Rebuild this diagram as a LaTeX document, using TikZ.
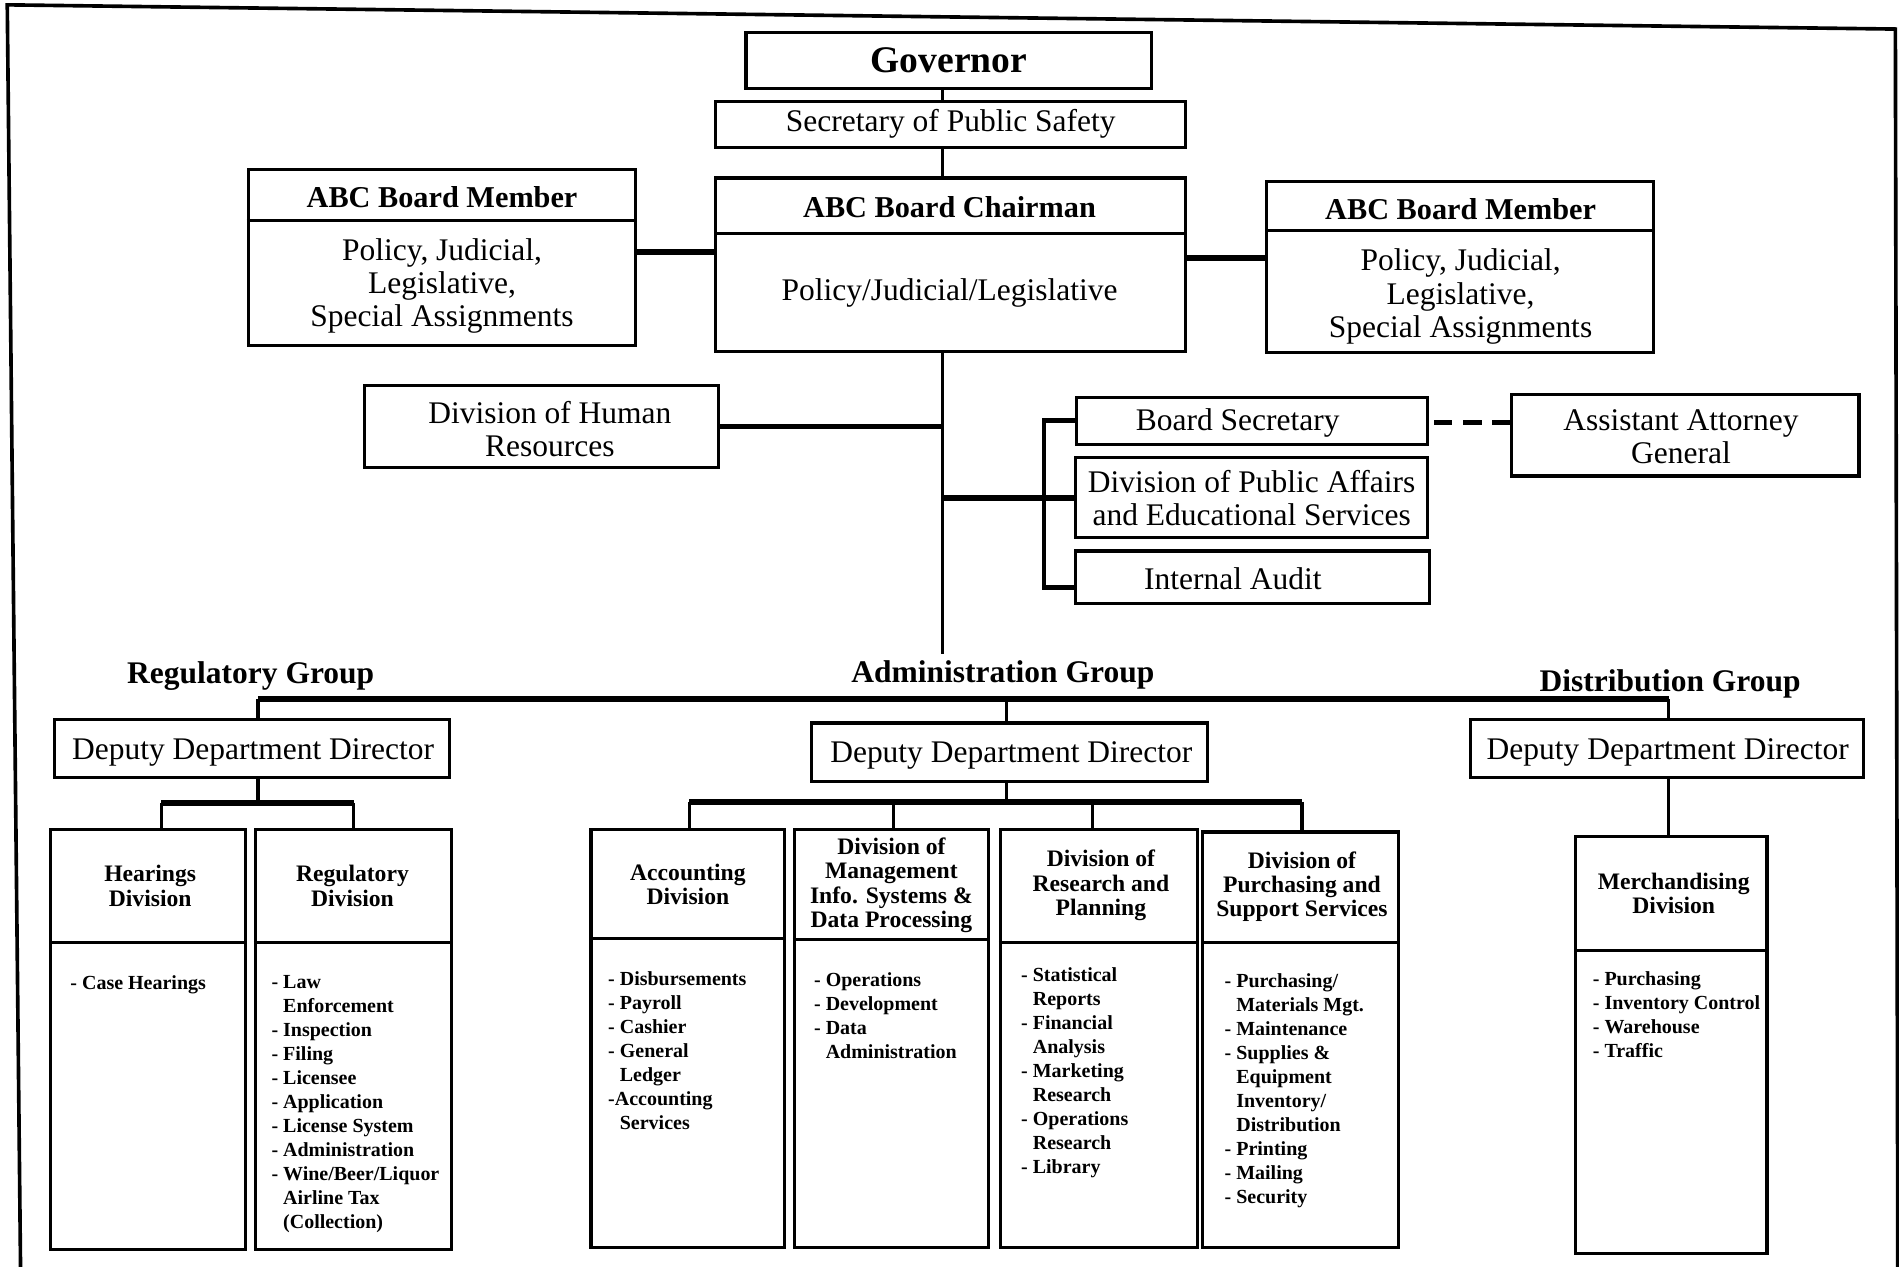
\documentclass[tikz,border=0pt]{standalone}
\usepackage{fontspec}
\setmainfont{Liberation Serif}
\newcommand{\fGov}{\fontsize{31}{34}\selectfont\bfseries}
\newcommand{\fHead}{\fontsize{25}{28}\selectfont\bfseries}
\newcommand{\fBody}{\fontsize{26}{27.5}\selectfont}
\newcommand{\fGroup}{\fontsize{26}{28}\selectfont\bfseries}
\newcommand{\fTitle}{\fontsize{19.5}{20}\selectfont\bfseries}
\newcommand{\fItem}{\fontsize{16.5}{19.8}\selectfont\bfseries}
\newcommand{\ind}{\hphantom{- }}
\begin{document}
\begin{tikzpicture}[x=1pt,y=-1pt,
  box/.style={draw, line width=2.6pt, inner sep=0pt, align=center},
  conn/.style={line width=2.6pt},
  bar/.style={line width=4.6pt},
  frame/.style={line width=3pt, line join=miter},
  lbl/.style={inner sep=0pt, align=center},
  items/.style={inner sep=0pt, align=left, anchor=north west, font=\fItem},
]
\useasboundingbox (0,0) rectangle (1568,1046);

% page frame
\draw[frame] (17,1050) -- (6,4) -- (1565,24) -- (1567,1050);

% ---- top of the chart
\node[box, minimum width=335pt, minimum height=46pt, font=\fGov] (gov) at (783.5,50) {Governor};
\node[box, minimum width=388pt, minimum height=38pt, font=\fBody] (sec) at (785,102.5) {Secretary of Public Safety};

% board chairman
\node[box, minimum width=388pt, minimum height=143pt] (chr) at (785,218.5) {};
\draw[conn] (chr.west |- 0,193) -- (chr.east |- 0,193);
\node[lbl, font=\fHead] (chrT) at (784,171) {ABC Board Chairman};
\node[lbl, font=\fBody] (chrB) at (784,242) {Policy/Judicial/Legislative};

% board member, left
\node[box, minimum width=320pt, minimum height=145pt] (bml) at (365,212.5) {};
\draw[conn] (bml.west |- 0,182) -- (bml.east |- 0,182);
\node[lbl, font=\fHead] (bmlT) at (365,163) {ABC Board Member};
\node[lbl, font=\fBody] (bmlB) at (365,236) {Policy, Judicial,\\Legislative,\\Special Assignments};

% board member, right
\node[box, minimum width=319pt, minimum height=141pt] (bmr) at (1205.5,220.5) {};
\draw[conn] (bmr.west |- 0,190) -- (bmr.east |- 0,190);
\node[lbl, font=\fHead] (bmrT) at (1206,173) {ABC Board Member};
\node[lbl, font=\fBody] (bmrB) at (1206,245) {Policy, Judicial,\\Legislative,\\Special Assignments};

% staff offices
\node[box, minimum width=292pt, minimum height=68pt] (hr) at (447,352) {};
\node[lbl, font=\fBody] (hrT) at (454,354) {Division of Human\\Resources};
\node[box, minimum width=290pt, minimum height=39pt] (bs) at (1034,347.5) {};
\node[lbl, font=\fBody] (bsT) at (1022,349.5) {Board Secretary};
\node[box, minimum width=291pt, minimum height=66pt, font=\fBody] (pa) at (1033.5,411) {Division of Public Affairs\\and Educational Services};
\node[box, minimum width=292pt, minimum height=43pt] (ia) at (1034,476.5) {};
\node[lbl, font=\fBody] (iaT) at (1018,477.5) {Internal Audit};
\node[box, minimum width=287pt, minimum height=67pt] (aag) at (1391.5,359.5) {};
\node[lbl, font=\fBody] (aagT) at (1388,360.5) {Assistant Attorney\\General};

% group headings
\node[lbl, font=\fGroup] (regg) at (207,558) {Regulatory Group};
\node[lbl, font=\fGroup] (admg) at (828,557) {Administration Group};
\node[lbl, font=\fGroup] (disg) at (1379,565) {Distribution Group};

% deputy directors
\node[box, minimum width=326pt, minimum height=48pt] (depL) at (208,618) {};
\node[lbl, font=\fBody] (depLT) at (209,621) {Deputy Department Director};
\node[box, minimum width=327pt, minimum height=48pt] (depM) at (833.5,621) {};
\node[lbl, font=\fBody] (depMT) at (835,624) {Deputy Department Director};
\node[box, minimum width=325pt, minimum height=48pt] (depR) at (1376.5,618) {};
\node[lbl, font=\fBody] (depRT) at (1377,621) {Deputy Department Director};

% ---- divisions
\node[box, minimum width=161pt, minimum height=347pt] (hear) at (122.5,858.5) {};
\draw[conn] (hear.west |- 0,778) -- (hear.east |- 0,778);
\node[lbl, font=\fTitle] (hearT) at (124,731.5) {Hearings\\Division};
\node[items] (hearI) at (58,805) {- Case Hearings};

\node[box, minimum width=162pt, minimum height=347pt] (regd) at (292,858.5) {};
\draw[conn] (regd.west |- 0,778) -- (regd.east |- 0,778);
\node[lbl, font=\fTitle] (regdT) at (291,731.5) {Regulatory\\Division};
\node[items] (regdI) at (224,805) {- Law\\\ind Enforcement\\- Inspection\\- Filing\\- Licensee\\- Application\\- License System\\- Administration\\- Wine/Beer/Liquor\\\ind Airline Tax\\\ind (Collection)};

\node[box, minimum width=160pt, minimum height=345pt] (acct) at (568,857.5) {};
\draw[conn] (acct.west |- 0,775) -- (acct.east |- 0,775);
\node[lbl, font=\fTitle] (acctT) at (568,730.5) {Accounting\\Division};
\node[items] (acctI) at (502,802) {- Disbursements\\- Payroll\\- Cashier\\- General\\\ind Ledger\\-Accounting\\\ind Services};

\node[box, minimum width=160pt, minimum height=345pt] (mis) at (736,857.5) {};
\draw[conn] (mis.west |- 0,776) -- (mis.east |- 0,776);
\node[lbl, font=\fTitle] (misT) at (736,731) {Division of\\Management\\Info. Systems \&\\Data Processing};
\node[items] (misI) at (672,803) {- Operations\\- Development\\- Data\\\ind Administration};

\node[box, minimum width=163pt, minimum height=345pt] (res) at (907.5,857.5) {};
\draw[conn] (res.west |- 0,778) -- (res.east |- 0,778);
\node[lbl, font=\fTitle] (resT) at (909,731) {Division of\\Research and\\Planning};
\node[items] (resI) at (843,799) {- Statistical\\\ind Reports\\- Financial\\\ind Analysis\\- Marketing\\\ind Research\\- Operations\\\ind Research\\- Library};

\node[box, minimum width=162pt, minimum height=343pt] (pur) at (1074,858.5) {};
\draw[conn] (pur.west |- 0,778) -- (pur.east |- 0,778);
\node[lbl, font=\fTitle] (purT) at (1075,732) {Division of\\Purchasing and\\Support Services};
\node[items] (purI) at (1011,804) {- Purchasing/\\\ind Materials Mgt.\\- Maintenance\\- Supplies \&\\\ind Equipment\\\ind Inventory/\\\ind Distribution\\- Printing\\- Mailing\\- Security};

\node[box, minimum width=158pt, minimum height=344pt] (merch) at (1380,863) {};
\draw[conn] (merch.west |- 0,785) -- (merch.east |- 0,785);
\node[lbl, font=\fTitle] (merchT) at (1382,738) {Merchandising\\Division};
\node[items] (merchI) at (1315,802) {- Purchasing\\- Inventory Control\\- Warehouse\\- Traffic};

% ---- connectors
\coordinate (spine) at (778,0);
\draw[conn] (gov.south -| spine) -- (sec.north -| spine);
\draw[conn] (sec.south -| spine) -- (chr.north -| spine);
\draw[conn] (chr.south -| spine) -- ([yshift=5pt]admg.north -| spine);
\draw[bar] (bml.east |- 0,208) -- (chr.west |- 0,208);
\draw[bar] (chr.east |- 0,213) -- (bmr.west |- 0,213);
\draw[bar] (hr.east) -- (hr.east -| spine);
\draw[bar] (pa.west -| spine) -- (pa.west);
\coordinate (brk) at (862,0);
\draw[bar, line width=4pt] (bs.west) -- (bs.west -| brk) -- (brk |- 0,485) -- (ia.west |- 0,485);
\draw[bar, dash pattern=on 15pt off 9pt, dash phase=20pt] (bs.east |- 0,349) -- (aag.west |- 0,349);

% group bar and drops to the deputies
\coordinate (gL) at (213,577);
\coordinate (gM) at (831,577);
\coordinate (gR) at (1378,577);
\draw[bar] (gL) -- (gR);
\draw[conn] (gL) -- (depL.north -| gL);
\draw[conn] (gM) -- (depM.north -| gM);
\draw[conn] (gR) -- (depR.north -| gR);

% regulatory group
\coordinate (lJ) at (213,663);
\coordinate (lA) at (133,663);
\coordinate (lB) at (292,663);
\draw[conn] (depL.south -| lJ) -- (lJ);
\draw[bar] (lA) -- (lB);
\draw[conn] (lA) -- (hear.north -| lA);
\draw[conn] (lB) -- (regd.north -| lB);

% administration group
\coordinate (mJ) at (831,662);
\coordinate (m1) at (569,662);
\coordinate (m2) at (738,662);
\coordinate (m3) at (902,662);
\coordinate (m4) at (1075,662);
\draw[conn] (depM.south -| mJ) -- (mJ);
\draw[bar] (m1) -- (m4);
\draw[conn] (m1) -- (acct.north -| m1);
\draw[conn] (m2) -- (mis.north -| m2);
\draw[conn] (m3) -- (res.north -| m3);
\draw[conn] (m4) -- (pur.north -| m4);

% distribution group
\draw[conn] (depR.south -| gR) -- (merch.north -| gR);
\end{tikzpicture}
\end{document}
